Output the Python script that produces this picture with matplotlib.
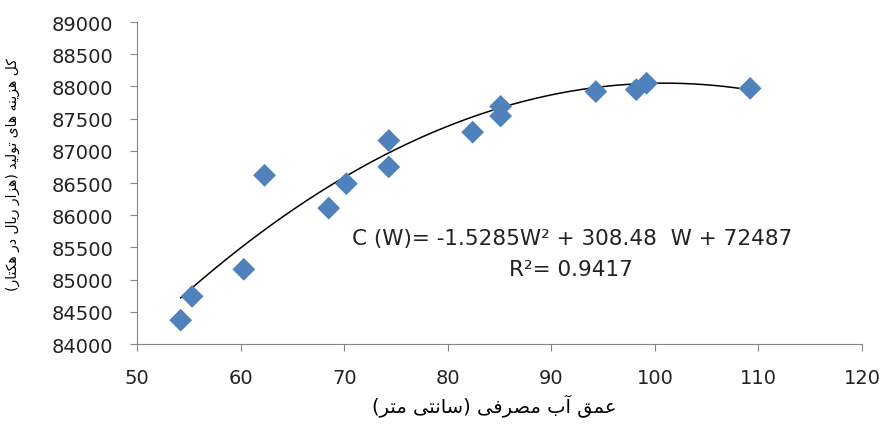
import numpy as np
import matplotlib
matplotlib.use("Agg")
import matplotlib.pyplot as plt

# water depth (cm) and total production cost (thousand rial / ha)
depth = [54.2, 55.3, 60.3, 62.3, 68.5, 70.2, 74.3, 74.3, 82.4, 85.1, 85.1, 94.3, 98.2, 99.2, 109.2]
cost = [84370, 84740, 85160, 86620, 86110, 86490, 87160, 86750, 87290, 87690, 87540, 87920, 87950, 88050, 87970]

# fitted trend: C(W) = a W^2 + b W + c
coef = [-1.5285, 308.48, 72487]
r2 = 0.9417

x_ticks = [50, 60, 70, 80, 90, 100, 110, 120]
y_ticks = [84000, 84500, 85000, 85500, 86000, 86500, 87000, 87500, 88000, 88500, 89000]

xlabel_fa = "عمق آب مصرفی (سانتی متر)"
ylabel_fa = "کل هزینه های تولید (هزار ریال در هکتار)"

# minimal persian shaping, matplotlib does no arabic joining or RTL itself
FORMS = {
    "\u0627": ("\uFE8D", "\uFE8E", None, None),  # alef
    "\u0622": ("\uFE81", "\uFE82", None, None),  # alef madda
    "\u062F": ("\uFEA9", "\uFEAA", None, None),  # dal
    "\u0631": ("\uFEAD", "\uFEAE", None, None),  # reh
    "\u0632": ("\uFEAF", "\uFEB0", None, None),  # zain
    "\u0648": ("\uFEED", "\uFEEE", None, None),  # waw
    "\u0628": ("\uFE8F", "\uFE90", "\uFE91", "\uFE92"),  # beh
    "\u062A": ("\uFE95", "\uFE96", "\uFE97", "\uFE98"),  # teh
    "\u0633": ("\uFEB1", "\uFEB2", "\uFEB3", "\uFEB4"),  # seen
    "\u0635": ("\uFEB9", "\uFEBA", "\uFEBB", "\uFEBC"),  # sad
    "\u0639": ("\uFEC9", "\uFECA", "\uFECB", "\uFECC"),  # ain
    "\u0641": ("\uFED1", "\uFED2", "\uFED3", "\uFED4"),  # feh
    "\u0642": ("\uFED5", "\uFED6", "\uFED7", "\uFED8"),  # qaf
    "\u06A9": ("\uFB8E", "\uFB8F", "\uFB90", "\uFB91"),  # keheh
    "\u0643": ("\uFED9", "\uFEDA", "\uFEDB", "\uFEDC"),  # kaf
    "\u0644": ("\uFEDD", "\uFEDE", "\uFEDF", "\uFEE0"),  # lam
    "\u0645": ("\uFEE1", "\uFEE2", "\uFEE3", "\uFEE4"),  # meem
    "\u0646": ("\uFEE5", "\uFEE6", "\uFEE7", "\uFEE8"),  # noon
    "\u0647": ("\uFEE9", "\uFEEA", "\uFEEB", "\uFEEC"),  # heh
    "\u06CC": ("\uFBFC", "\uFBFD", "\uFBFE", "\uFBFF"),  # farsi yeh
    "\u064A": ("\uFEF1", "\uFEF2", "\uFEF3", "\uFEF4"),  # yeh
}


def shape(text):
    out = []
    for i, ch in enumerate(text):
        if ch not in FORMS:
            out.append(ch)
            continue
        prev = text[i - 1] if i > 0 else ""
        nxt = text[i + 1] if i + 1 < len(text) else ""
        joins_prev = prev in FORMS and FORMS[prev][2] is not None
        joins_next = nxt in FORMS and FORMS[ch][2] is not None
        iso, fin, ini, med = FORMS[ch]
        if joins_prev and joins_next:
            out.append(med)
        elif joins_prev:
            out.append(fin)
        elif joins_next:
            out.append(ini)
        else:
            out.append(iso)
    vis = "".join(reversed(out))
    return vis.translate(str.maketrans("()", ")("))


fig = plt.figure(figsize=(8.85, 4.27), dpi=100)
ax = fig.add_axes([0.155, 0.192, 0.819, 0.754])

ax.scatter(depth, cost, marker="D", s=135, color="#4f81bd", edgecolors="none", zorder=3)

w = np.linspace(min(depth), max(depth), 200)
ax.plot(w, np.polyval(coef, w), color="black", lw=1.1, zorder=2)

ax.set_xlim(50, 120)
ax.set_ylim(84000, 89000)
ax.set_xticks(x_ticks)
ax.set_yticks(y_ticks)

for side in ["top", "right"]:
    ax.spines[side].set_visible(False)
for side in ["left", "bottom"]:
    ax.spines[side].set_color("#868686")
ax.tick_params(direction="out", length=5, color="#868686", labelsize=14, labelcolor="#222222", pad=12)

eq = "C (W)= %.4fW\u00b2 + %.2f  W + %d" % (coef[0], coef[1], coef[2])
ax.text(92.0, 85650, eq, fontsize=15.5, ha="center", va="center", color="#222222")
ax.text(91.9, 85170, "R\u00b2= %.4f" % r2, fontsize=15.5, ha="center", va="center", color="#222222")

ax.set_xlabel(shape(xlabel_fa), fontsize=14, family="DejaVu Sans")
ax.set_ylabel(shape(ylabel_fa), fontsize=10, family="DejaVu Sans")
ax.xaxis.set_label_coords(0.493, -0.155)
ax.yaxis.set_label_coords(-0.162, 0.528)

fig.savefig("out.png", dpi=100)
